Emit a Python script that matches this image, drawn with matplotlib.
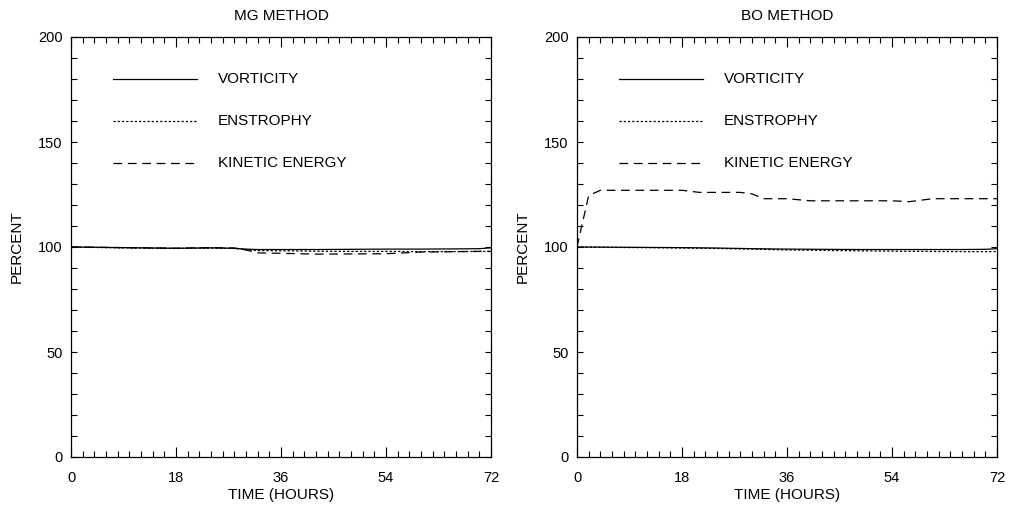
import matplotlib.pyplot as plt
import numpy as np
from matplotlib.ticker import MultipleLocator

plt.rcParams['font.family'] = ['Liberation Sans', 'DejaVu Sans']

# --- MG method (left panel) ---
t_mg = [0, 6, 12, 18, 24, 28, 30, 32, 36, 42, 48, 54, 60, 66, 70, 72]
mg_vort = [100, 99.8, 99.6, 99.4, 99.6, 99.4, 99.0, 98.8, 98.8, 98.8, 98.9, 99.0, 99.0, 99.1, 99.2, 99.6]
mg_enst = [100, 99.7, 99.5, 99.3, 99.5, 99.3, 98.7, 98.3, 98.2, 98.0, 97.9, 97.9, 97.8, 97.8, 97.9, 97.9]
mg_ke = [100, 99.8, 99.6, 99.4, 99.7, 99.5, 98.6, 97.2, 97.0, 96.6, 96.7, 96.8, 97.6, 97.8, 97.9, 97.9]

# --- BO method (right panel) ---
t_bo = [0, 6, 12, 18, 24, 30, 36, 42, 48, 54, 60, 66, 70, 72]
bo_vort = [100, 99.9, 99.8, 99.7, 99.5, 99.2, 99.0, 98.9, 98.8, 98.8, 98.8, 98.8, 98.9, 99.2]
bo_enst = [100, 99.8, 99.7, 99.5, 99.3, 99.0, 98.6, 98.4, 98.2, 98.0, 97.9, 97.8, 97.8, 97.8]
t_bo_ke = [0, 2, 4, 10, 18, 21, 28, 30, 32, 36, 40, 48, 54, 57, 61, 66, 72]
bo_ke = [100, 124.5, 127, 127, 127, 126, 126, 125.3, 123, 123, 122, 122, 122, 121.6, 123, 123, 123]

legend_names = ['VORTICITY', 'ENSTROPHY', 'KINETIC ENERGY']
legend_y = [180, 160, 140]

estilos = [
    dict(linestyle='-'),
    dict(linestyle=(0, (1.8, 1.6))),
    dict(linestyle=(0, (7, 4.5))),
]

fig = plt.figure(figsize=(10.11, 5.08), dpi=100)
ax1 = fig.add_axes([71 / 1011, 51 / 508, 420 / 1011, 420 / 508])
ax2 = fig.add_axes([577 / 1011, 51 / 508, 420 / 1011, 420 / 508])

paineis = [
    (ax1, 'MG METHOD', [(t_mg, mg_vort), (t_mg, mg_enst), (t_mg, mg_ke)]),
    (ax2, 'BO METHOD', [(t_bo, bo_vort), (t_bo, bo_enst), (t_bo_ke, bo_ke)]),
]

for ax, titulo, series in paineis:
    for (tx, ty), est in zip(series, estilos):
        ax.plot(tx, ty, color='black', lw=0.9, **est)

    # legenda desenhada dentro do grafico
    for nome, yl, est in zip(legend_names, legend_y, estilos):
        ax.plot([7.2, 21.6], [yl, yl], color='black', lw=0.9, **est)
        ax.text(25.2, yl, nome, fontsize=11, va='center', ha='left')

    ax.set_xlim(0, 72)
    ax.set_ylim(0, 200)
    ax.xaxis.set_major_locator(MultipleLocator(18))
    ax.xaxis.set_minor_locator(MultipleLocator(2))
    ax.yaxis.set_major_locator(MultipleLocator(50))
    ax.yaxis.set_minor_locator(MultipleLocator(10))
    ax.tick_params(which='both', direction='in', top=True, right=True,
                   labelsize=10.5, width=0.8)
    ax.tick_params(axis='x', which='major', length=7, pad=10)
    ax.tick_params(axis='x', which='minor', length=4.5)
    ax.tick_params(axis='y', which='both', length=4.5, pad=6)
    for s in ax.spines.values():
        s.set_linewidth(0.9)

    ax.set_title(titulo, fontsize=11, pad=12)
    ax.set_xlabel('TIME (HOURS)', fontsize=11, labelpad=2)
    ax.set_ylabel('PERCENT', fontsize=11, labelpad=10)

fig.savefig('out.png', dpi=100)
